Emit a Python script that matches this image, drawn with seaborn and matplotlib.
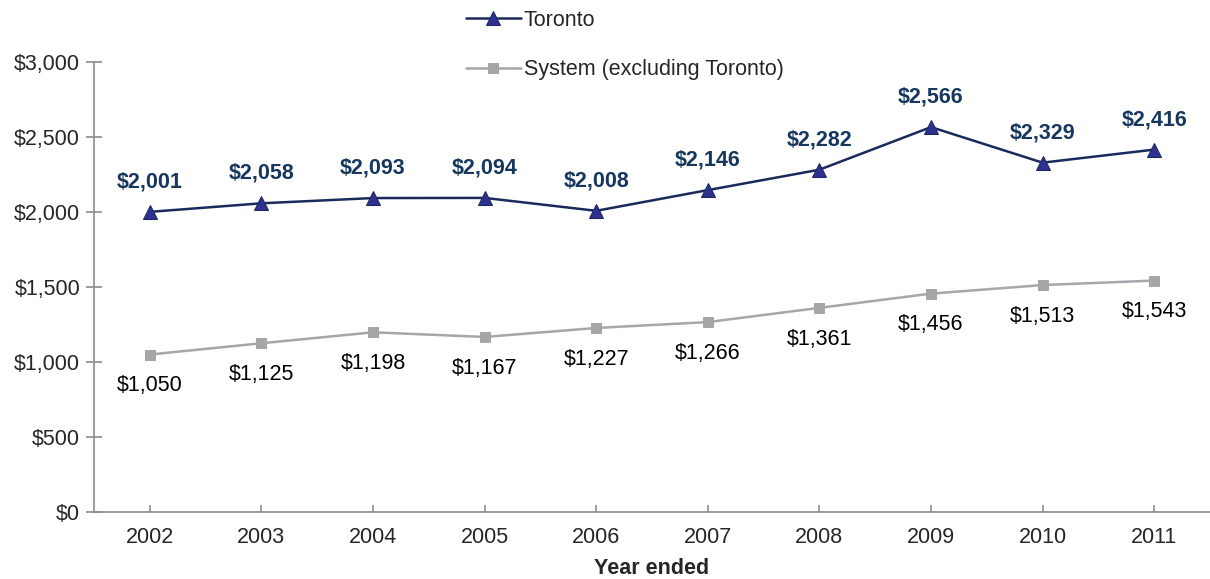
import pandas as pd
import seaborn as sns
import matplotlib.pyplot as plt
from matplotlib.ticker import FuncFormatter

# Chart values
years = ['2002', '2003', '2004', '2005', '2006', '2007', '2008', '2009', '2010', '2011']
toronto = [2001, 2058, 2093, 2094, 2008, 2146, 2282, 2566, 2329, 2416]
system = [1050, 1125, 1198, 1167, 1227, 1266, 1361, 1456, 1513, 1543]


def main():
    sns.set_style('white')
    plt.rcParams['font.family'] = ['Liberation Sans', 'DejaVu Sans']
    fs = 15.5

    df = pd.DataFrame({'year': years, 'Toronto': toronto,
                       'System (excluding Toronto)': system})

    fig = plt.figure(figsize=(12.1, 5.79), dpi=100)
    ax = fig.add_axes([0.0777, 0.1157, 0.9223, 0.7772])

    sns.lineplot(data=df, x='year', y='Toronto', ax=ax, color='#1B2A5C',
                 linewidth=1.8, marker='^', markersize=10,
                 markerfacecolor='#2E3192', markeredgecolor='#1B2A5C',
                 label='Toronto')
    sns.lineplot(data=df, x='year', y='System (excluding Toronto)', ax=ax,
                 color='#A3A8AD', linewidth=1.8, marker='s', markersize=7,
                 markerfacecolor='#A6A6A6', markeredgecolor='#A6A6A6',
                 label='System (excluding Toronto)')

    # Data labels
    for i, v in enumerate(toronto):
        ax.annotate(f"${v:,}", (i, v), xytext=(0, 14), textcoords='offset points',
                    ha='center', va='bottom', fontsize=fs, fontweight='bold',
                    color='#17375E')
    for i, v in enumerate(system):
        ax.annotate(f"${v:,}", (i, v), xytext=(0, -15), textcoords='offset points',
                    ha='center', va='top', fontsize=fs, color='black')

    ax.set_xlim(-0.5, 9.5)
    ax.set_ylim(0, 3000)
    ax.set_yticks(range(0, 3001, 500))
    ax.yaxis.set_major_formatter(FuncFormatter(lambda v, p: f"${int(v):,}"))
    ax.set_xlabel('Year ended', fontsize=fs, fontweight='bold', labelpad=7)
    ax.set_ylabel('')

    for s in ['top', 'right']:
        ax.spines[s].set_visible(False)
    for s in ['left', 'bottom']:
        ax.spines[s].set_color('#8C8C8C')
        ax.spines[s].set_linewidth(1.2)

    ax.tick_params(axis='y', which='major', left=True, direction='inout',
                   length=12, width=1.2, color='#8C8C8C', labelsize=fs, pad=4)
    ax.tick_params(axis='x', which='major', bottom=True, direction='in',
                   length=5, width=1.2, color='#8C8C8C', labelsize=fs, pad=11)
    ax.grid(False)

    ax.get_legend().remove()
    handles, labels = ax.get_legend_handles_labels()
    fig.legend(handles, labels, loc='upper left', bbox_to_anchor=(0.369, 1.017),
               frameon=False, fontsize=fs, handlelength=2.55, handletextpad=0.15,
               labelspacing=1.34)

    plt.savefig('out.png', dpi=100)
    plt.close()


if __name__ == '__main__':
    main()
